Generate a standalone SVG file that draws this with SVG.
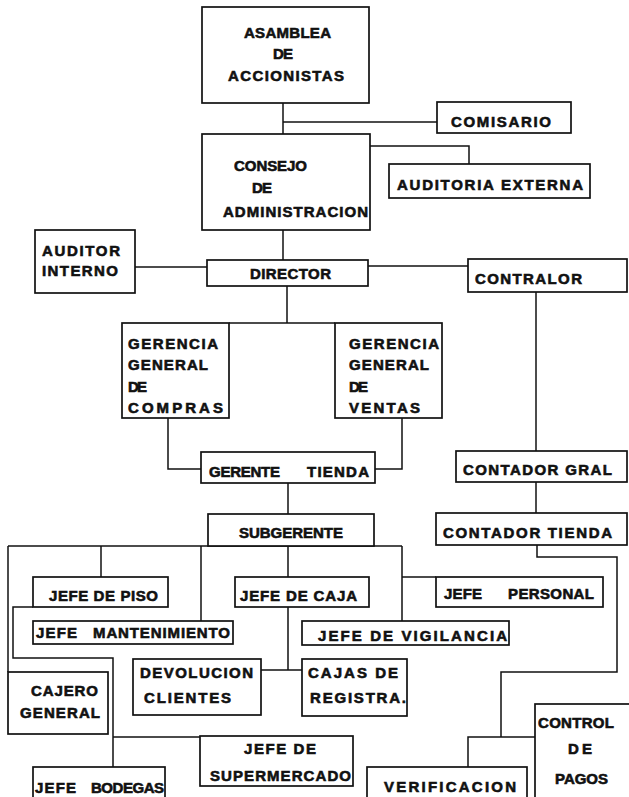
<svg xmlns="http://www.w3.org/2000/svg" width="629" height="797" viewBox="0 0 629 797">
<style>
.box{fill:#fff;stroke:#111;stroke-width:1.7}
.ln{fill:none;stroke:#111;stroke-width:1.5}
text{font-family:"Liberation Sans","DejaVu Sans",sans-serif;font-weight:bold;font-size:15px;fill:#111;stroke:#111;stroke-width:0.6}
</style>
<rect width="629" height="797" fill="#fff"/>
<g id="connectors">
<path class="ln" d="M283,103V134"/>
<path class="ln" d="M283,122H437"/>
<path class="ln" d="M370,146H469V164"/>
<path class="ln" d="M283,230V260"/>
<path class="ln" d="M135,267H207"/>
<path class="ln" d="M368,266H468"/>
<path class="ln" d="M287,286V323M229,323H335"/>
<path class="ln" d="M536,292V451"/>
<path class="ln" d="M536,482V513"/>
<path class="ln" d="M537,545V557H617V672H501V737H468V767M501,737H535"/>
<path class="ln" d="M168,418V469H201"/>
<path class="ln" d="M402,418V469H375"/>
<path class="ln" d="M288,483V514"/>
<path class="ln" d="M8,546H402"/>
<path class="ln" d="M8,546V672"/>
<path class="ln" d="M101,546V577"/>
<path class="ln" d="M201,546V621"/>
<path class="ln" d="M288,546V577"/>
<path class="ln" d="M402,546V621M402,577H436"/>
<path class="ln" d="M33,607H13V658H113V767M113,737H200"/>
<path class="ln" d="M288,607V670M261,670H302"/>
</g>
<g id="asamblea"><rect class="box" x="202" y="7" width="167" height="96"/>
<text x="244" y="38" textLength="87">ASAMBLEA</text><text x="273" y="59" textLength="20">DE</text><text x="228" y="81" textLength="116">ACCIONISTAS</text></g>
<g id="comisario"><rect class="box" x="437" y="102" width="134" height="31"/><text x="451" y="127" textLength="100">COMISARIO</text></g>
<g id="consejo"><rect class="box" x="202" y="134" width="168" height="96"/>
<text x="234" y="171" textLength="73">CONSEJO</text><text x="252" y="193" textLength="20">DE</text><text x="223" y="217" textLength="145">ADMINISTRACION</text></g>
<g id="auditoria-externa"><rect class="box" x="389" y="164" width="201" height="34"/><text x="397" y="190" textLength="186">AUDITORIA  EXTERNA</text></g>
<g id="auditor-interno"><rect class="box" x="35" y="230" width="100" height="63"/>
<text x="42" y="256" textLength="78">AUDITOR</text><text x="42" y="276" textLength="76">INTERNO</text></g>
<g id="director"><rect class="box" x="207" y="260" width="161" height="26"/><text x="250" y="279" textLength="81">DIRECTOR</text></g>
<g id="contralor"><rect class="box" x="468" y="259" width="159" height="33"/><text x="475" y="284" textLength="107">CONTRALOR</text></g>
<g id="gerencia-compras"><rect class="box" x="122" y="323" width="107" height="95"/>
<text x="128" y="349" textLength="90">GERENCIA</text><text x="128" y="370" textLength="80">GENERAL</text><text x="128" y="392" textLength="19">DE</text><text x="128" y="413" textLength="95">COMPRAS</text></g>
<g id="gerencia-ventas"><rect class="box" x="335" y="323" width="107" height="95"/>
<text x="349" y="349" textLength="90">GERENCIA</text><text x="349" y="370" textLength="80">GENERAL</text><text x="349" y="392" textLength="19">DE</text><text x="349" y="413" textLength="71">VENTAS</text></g>
<g id="gerente-tienda"><rect class="box" x="201" y="452" width="174" height="31"/>
<text x="209" y="477" textLength="71">GERENTE</text><text x="307" y="477" textLength="62">TIENDA</text></g>
<g id="contador-gral"><rect class="box" x="456" y="451" width="171" height="31"/><text x="463" y="475" textLength="149">CONTADOR  GRAL</text></g>
<g id="subgerente"><rect class="box" x="208" y="514" width="166" height="32"/><text x="239" y="538" textLength="104">SUBGERENTE</text></g>
<g id="contador-tienda"><rect class="box" x="436" y="513" width="191" height="32"/><text x="443" y="538" textLength="169">CONTADOR  TIENDA</text></g>
<g id="jefe-piso"><rect class="box" x="33" y="577" width="135" height="30"/><text x="49" y="601" textLength="109">JEFE DE PISO</text></g>
<g id="jefe-caja"><rect class="box" x="235" y="577" width="134" height="30"/><text x="240" y="601" textLength="117">JEFE DE CAJA</text></g>
<g id="jefe-personal"><rect class="box" x="436" y="577" width="167" height="30"/>
<text x="444" y="599" textLength="38">JEFE</text><text x="508" y="599" textLength="86">PERSONAL</text></g>
<g id="jefe-mantenimiento"><rect class="box" x="33" y="621" width="200" height="23"/>
<text x="36" y="638" textLength="41">JEFE</text><text x="93" y="638" textLength="137">MANTENIMIENTO</text></g>
<g id="jefe-vigilancia"><rect class="box" x="302" y="621" width="207" height="24"/><text x="318" y="641" textLength="189">JEFE  DE  VIGILANCIA</text></g>
<g id="devolucion"><rect class="box" x="133" y="659" width="128" height="56"/>
<text x="140" y="678" textLength="113">DEVOLUCION</text><text x="144" y="703" textLength="87">CLIENTES</text></g>
<g id="cajas-registra"><rect class="box" x="302" y="659" width="105" height="57"/>
<text x="308" y="678" textLength="90">CAJAS DE</text><text x="310" y="703" textLength="96">REGISTRA.</text></g>
<g id="cajero-general"><rect class="box" x="8" y="672" width="100" height="62"/>
<text x="31" y="696" textLength="67">CAJERO</text><text x="20" y="718" textLength="80">GENERAL</text></g>
<g id="jefe-supermercado"><rect class="box" x="200" y="736" width="153" height="50"/>
<text x="244" y="754" textLength="72">JEFE DE</text><text x="210" y="781" textLength="141">SUPERMERCADO</text></g>
<g id="jefe-bodegas"><rect class="box" x="33" y="767" width="132" height="40"/>
<text x="35" y="793" textLength="41">JEFE</text><text x="91" y="793" textLength="73">BODEGAS</text></g>
<g id="verificacion"><rect class="box" x="367" y="767" width="160" height="40"/><text x="384" y="792" textLength="132">VERIFICACION</text></g>
<g id="control-pagos"><rect class="box" x="535" y="704" width="100" height="100"/>
<text x="538" y="728" textLength="76">CONTROL</text><text x="568" y="754" textLength="24">DE</text><text x="555" y="784" textLength="53">PAGOS</text></g>
</svg>
